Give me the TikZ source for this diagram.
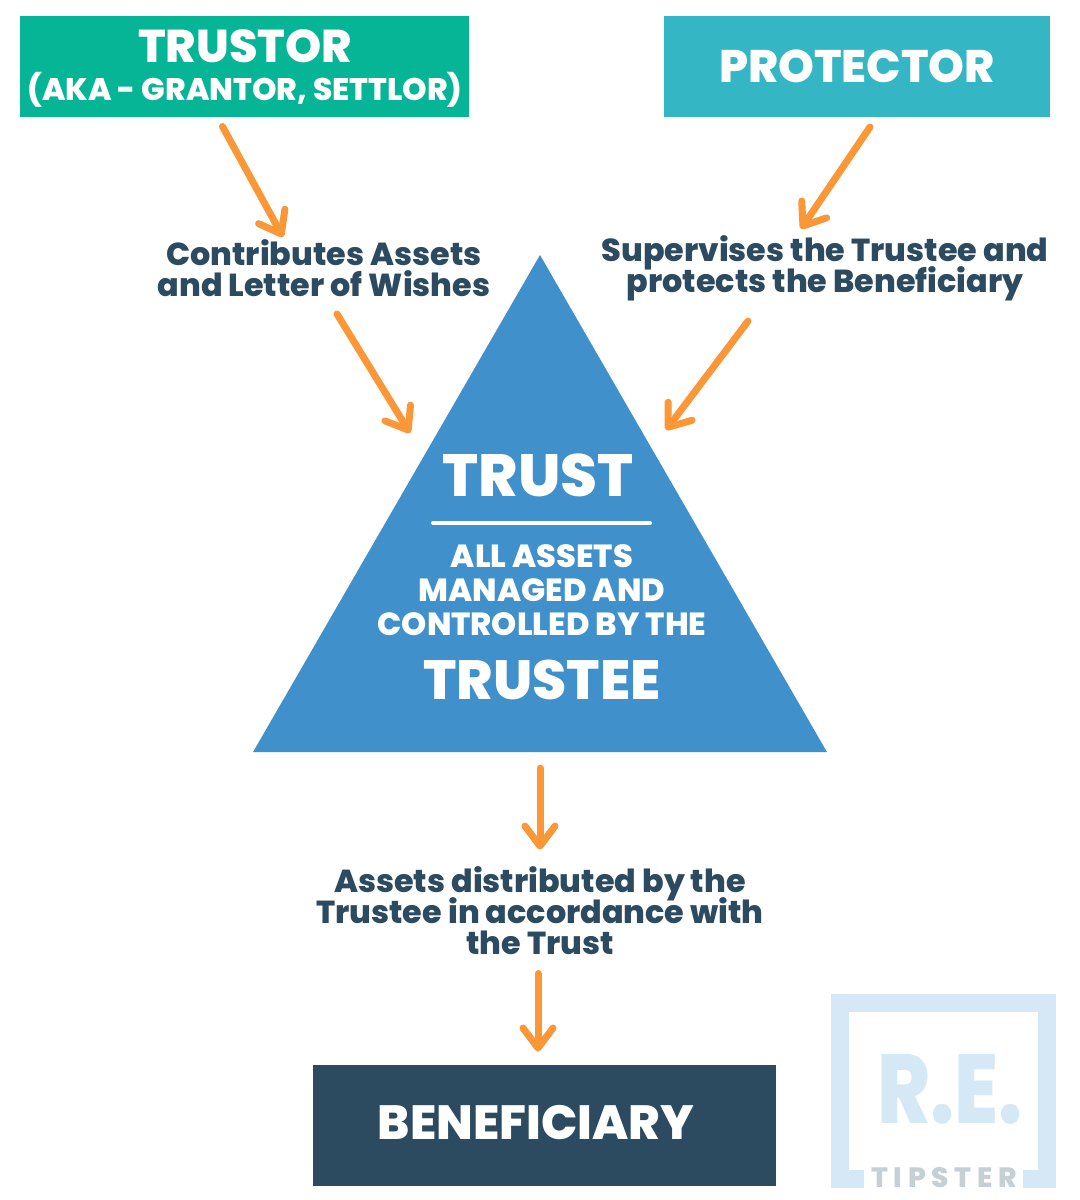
\documentclass[tikz,border=0pt]{standalone}
\usepackage{fontspec}
\setmainfont{Poppins}[BoldFont=* ExtraBold]
\newfontfamily\tipfont{Poppins}[BoldFont=* ExtraBold,LetterSpace=20]
\usetikzlibrary{arrows.meta,shapes.geometric}
\definecolor{tipgreen}{HTML}{05B596}
\definecolor{tipteal}{HTML}{35B6C4}
\definecolor{tipnavy}{HTML}{2C4A60}
\definecolor{tipblue}{HTML}{3F90CB}
\definecolor{tiporange}{HTML}{FB9737}
\definecolor{tippale}{HTML}{D4E8F5}
\definecolor{tipgrey}{HTML}{C5CFD6}
\newcommand{\fsz}[2]{\fontsize{#1}{#2}\selectfont\bfseries\lineskiplimit=-20pt}
\tikzset{
  party/.style={inner sep=0pt, outer sep=0pt, align=center, text=white},
  lbl/.style={align=center, text=tipnavy, inner sep=0pt, font=\fsz{15.9}{15.5}},
  tri/.style={align=center, text=white, inner sep=0pt},
  arr/.style={-{Straight Barb[length=10pt, width=15pt, round]}, line width=3.5pt, color=tiporange, line cap=round},
}
\begin{document}
\begin{tikzpicture}[x=0.5pt,y=-0.5pt]
  \useasboundingbox (0,0) rectangle (1080,1200);
  % boxes
  \node[party, fill=tipgreen, minimum width=224.5pt, minimum height=50.5pt] (trustor) at (244.5,66.5) {};
  \node[tri, font=\fsz{23}{23}] (trustorhead) at (245,46) {TRUSTOR};
  \node[tri, font=\fsz{15.6}{16}] (aka) at (245,90) {(AKA - GRANTOR, SETTLOR)};
  \node[party, fill=tipteal, minimum width=193pt, minimum height=50.5pt, font=\fsz{22.8}{24}] (protector) at (857,66.5) {\raisebox{-1pt}{PROTECTOR}};
  \node[party, fill=tipnavy, minimum width=231.5pt, minimum height=60.5pt] (beneficiary) at (544.5,1125) {};
  \node[tri, font=\fsz{24}{24}] (benefhead) at (536,1123) {BENEFICIARY};
  % triangle
  \node[regular polygon, regular polygon sides=3, fill=tipblue, inner sep=0pt, outer sep=0pt, minimum size=331.4pt] (trust) at (540,586.4) {};
  \node[tri, font=\fsz{29.8}{31}] (trusthead) at (538,475) {TRUST};
  \draw[white, line width=2pt, line cap=round] (433,523) -- (650,523);
  \node[tri, font=\fsz{16}{17}] (assets) at (542,590) {ALL ASSETS\\MANAGED AND\\CONTROLLED BY THE};
  \node[tri, font=\fsz{27.6}{31}] (trustee) at (542,680) {TRUSTEE};
  % labels
  \node[lbl] (contrib) at (324,268) {Contributes Assets\\and Letter of Wishes};
  \node[lbl] (superv) at (825,268) {Supervises the Trustee and\\protects the Beneficiary};
  \node[lbl] (distrib) at (540,911) {Assets distributed by the\\Trustee in accordance with\\the Trust};
  % arrows
  \draw[arr] ([shift={(-22,9.5)}]trustor.south) -- ([shift={(-41,-2)}]contrib.north);
  \draw[arr] ([shift={(13,17)}]contrib.south) -- (410,433);
  \draw[arr] ([shift={(13,10)}]protector.south) -- ([shift={(-24,-6)}]superv.north);
  \draw[arr] ([shift={(-77,20)}]superv.south) -- (666,430);
  \draw[arr] ([shift={(0,16)}]trust.side 2) -- ([shift={(0,-17)}]distrib.north);
  \draw[arr] ([shift={(-2,18)}]distrib.south) -- ([shift={(-6.5,-13)}]beneficiary.north);
  % watermark
  \draw[tippale, line width=9pt] (864,1178.5) -- (840,1178.5) -- (840,1003) -- (1047,1003) -- (1047,1178.5) -- (1023,1178.5);
  \node[inner sep=0pt, text=tippale, font=\fsz{49}{49}] (re) at (950,1089) {\scalebox{.82}[1]{R.E.}};
  \node[inner sep=0pt, text=tipgrey, font=\fsz{14}{14}\tipfont] (tipster) at (944,1178) {TIPSTER};
\end{tikzpicture}
\end{document}
